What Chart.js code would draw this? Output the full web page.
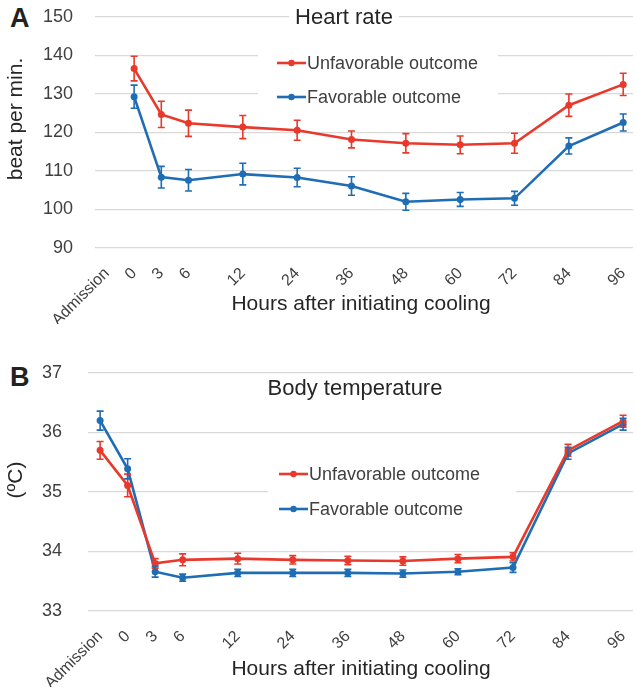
<!DOCTYPE html>
<html>
<head>
<meta charset="utf-8">
<script src="https://cdn.jsdelivr.net/npm/chart.js@4.4.0/dist/chart.umd.min.js"></script>
<style>
  body { margin: 0; background: #fff; width: 637px; height: 698px; position: relative; overflow: hidden; }
  canvas { position: absolute; left: 0; }
  .tag { position: absolute; font: bold 27px "Liberation Sans", Arial, sans-serif; color: #222; }
</style>
</head>
<body>
<div class="tag" style="left:10px; top:3px;">A</div>
<div class="tag" style="left:10px; top:362px;">B</div>
<canvas id="heart" width="637" height="335" style="top:0"></canvas>
<canvas id="temp" width="637" height="353" style="top:345px"></canvas>
<script>
// time points; the first three intervals are drawn at half spacing like the original figure
const categories = ['Admission', '0', '3', '6', '12', '24', '36', '48', '60', '72', '84', '96'];
const xPositions = [-0.5, 0, 0.5, 1, 2, 3, 4, 5, 6, 7, 8, 9];

// heart rate (beat per min.), mean and error
const hrUnfav    = [null, 136.6, 124.7, 122.4, 121.4, 120.6, 118.2, 117.2, 116.8, 117.2, 127.1, 132.5];
const hrUnfavErr = [null, 3.2, 3.4, 3.4, 3.0, 2.6, 2.2, 2.5, 2.3, 2.6, 2.9, 2.9];
const hrFav      = [null, 129.3, 108.4, 107.6, 109.2, 108.3, 106.1, 102.0, 102.6, 102.9, 116.5, 122.6];
const hrFavErr   = [null, 3.0, 2.8, 2.8, 2.8, 2.4, 2.4, 2.2, 1.8, 1.8, 2.1, 2.2];

// body temperature (ºC), mean and error
const btUnfav    = [35.70, 35.11, 33.80, 33.86, 33.88, 33.86, 33.85, 33.84, 33.88, 33.91, 35.70, 36.19];
const btUnfavErr = [0.15, 0.19, 0.08, 0.10, 0.09, 0.07, 0.07, 0.07, 0.07, 0.07, 0.10, 0.10];
const btFav      = [36.20, 35.39, 33.66, 33.56, 33.64, 33.64, 33.64, 33.63, 33.66, 33.73, 35.65, 36.14];
const btFavErr   = [0.16, 0.17, 0.09, 0.06, 0.06, 0.06, 0.06, 0.06, 0.05, 0.08, 0.10, 0.10];

const hrTicks = [90, 100, 110, 120, 130, 140, 150];
const btTicks = [33, 34, 35, 36, 37];

const RED = '#e8392c';
const BLUE = '#1f6db4';
const FONT = '"Liberation Sans", Arial, sans-serif';

function toPoints(values) {
  return values.map((v, i) => ({ x: xPositions[i], y: v }));
}

function noScalePadding(scale) {
  scale.paddingTop = 0;
  scale.paddingBottom = 0;
  scale.paddingLeft = 0;
  scale.paddingRight = 0;
}

// draws the error bars with caps
const errorBars = {
  id: 'errorBars',
  afterDatasetsDraw(chart) {
    const ctx = chart.ctx;
    const xs = chart.scales.x, ys = chart.scales.y;
    chart.data.datasets.forEach(ds => {
      ctx.save();
      ctx.strokeStyle = ds.borderColor;
      ctx.lineWidth = 1.6;
      ds.data.forEach((p, i) => {
        if (p.y == null) return;
        const e = ds.errors[i];
        const x = xs.getPixelForValue(p.x);
        const top = ys.getPixelForValue(p.y + e);
        const bot = ys.getPixelForValue(p.y - e);
        ctx.beginPath();
        ctx.moveTo(x, top); ctx.lineTo(x, bot);
        ctx.moveTo(x - 3.5, top); ctx.lineTo(x + 3.5, top);
        ctx.moveTo(x - 3.5, bot); ctx.lineTo(x + 3.5, bot);
        ctx.stroke();
      });
      ctx.restore();
    });
  }
};

// title, legend and axis titles drawn at fixed spots, title/legend on white boxes
const overlay = {
  id: 'overlay',
  beforeDatasetsDraw(chart, args, opts) {
    const ctx = chart.ctx;
    ctx.save();
    ctx.fillStyle = '#fff';
    ctx.font = '22px ' + FONT;
    const tw = ctx.measureText(opts.title).width;
    ctx.fillRect(opts.titleX - tw / 2 - 6, opts.titleY - 14, tw + 12, 28);
    ctx.fillRect(opts.legendBox[0], opts.legendBox[1], opts.legendBox[2], opts.legendBox[3]);
    ctx.restore();
  },
  afterDraw(chart, args, opts) {
    const ctx = chart.ctx;
    ctx.save();
    ctx.fillStyle = '#262626';
    ctx.font = '22px ' + FONT;
    ctx.textAlign = 'center';
    ctx.textBaseline = 'middle';
    ctx.fillText(opts.title, opts.titleX, opts.titleY);
    ctx.font = '21px ' + FONT;
    ctx.fillText(opts.xTitle, opts.xTitleX, opts.xTitleY);
    ctx.save();
    ctx.translate(opts.yTitleX, opts.yTitleY);
    ctx.rotate(-Math.PI / 2);
    ctx.fillText(opts.yTitle, 0, 0);
    ctx.restore();
    ctx.font = '18px ' + FONT;
    ctx.textAlign = 'left';
    chart.data.datasets.forEach((ds, i) => {
      const y = opts.legendY + i * opts.legendGap;
      const x = opts.legendX;
      ctx.strokeStyle = ds.borderColor;
      ctx.lineWidth = 2.6;
      ctx.beginPath();
      ctx.moveTo(x, y); ctx.lineTo(x + 29, y);
      ctx.stroke();
      ctx.fillStyle = ds.borderColor;
      ctx.beginPath();
      ctx.arc(x + 14.5, y, 3.2, 0, Math.PI * 2);
      ctx.fill();
      ctx.fillStyle = '#404040';
      ctx.fillText(ds.label, x + 30, y + 1);
    });
    ctx.restore();
  }
};

function makeChart(id, unfav, unfavErr, fav, favErr, yTicks, ov, pad, yWidth, tickPad) {
  const ctx = document.getElementById(id).getContext('2d');
  return new Chart(ctx, {
    type: 'line',
    data: {
      datasets: [
        { label: 'Unfavorable outcome', data: toPoints(unfav), errors: unfavErr,
          borderColor: RED, backgroundColor: RED },
        { label: 'Favorable outcome', data: toPoints(fav), errors: favErr,
          borderColor: BLUE, backgroundColor: BLUE }
      ]
    },
    options: {
      responsive: false,
      animation: false,
      layout: { padding: pad },
      elements: {
        line: { borderWidth: 2.6, tension: 0 },
        point: { radius: 3.5, borderWidth: 0 }
      },
      scales: {
        x: {
          type: 'linear',
          min: -0.72,
          max: 9.18,
          afterBuildTicks(scale) {
            scale.ticks = xPositions.map(v => ({ value: v }));
          },
          afterFit(scale) {
            scale.height = 76;
            noScalePadding(scale);
          },
          ticks: {
            autoSkip: false,
            minRotation: 45,
            maxRotation: 45,
            padding: 8,
            color: '#404040',
            font: { family: FONT, size: 16 },
            callback: (v) => categories[xPositions.indexOf(v)]
          },
          grid: { display: false },
          border: { display: false }
        },
        y: {
          min: yTicks[0],
          max: yTicks[yTicks.length - 1],
          afterBuildTicks(scale) {
            scale.ticks = yTicks.map(v => ({ value: v }));
          },
          afterFit(scale) {
            scale.width = yWidth;
            noScalePadding(scale);
          },
          ticks: {
            color: '#404040',
            padding: tickPad,
            font: { family: FONT, size: 18 }
          },
          grid: { color: '#d9d9d9', lineWidth: 1.3, drawTicks: false },
          border: { display: false }
        }
      },
      plugins: {
        legend: { display: false },
        tooltip: { enabled: false },
        overlay: ov
      }
    },
    plugins: [overlay, errorBars]
  });
}

makeChart('heart', hrUnfav, hrUnfavErr, hrFav, hrFavErr, hrTicks, {
  title: 'Heart rate', titleX: 344, titleY: 18,
  xTitle: 'Hours after initiating cooling', xTitleX: 361, xTitleY: 304,
  yTitle: 'beat per min.', yTitleX: 16, yTitleY: 119,
  legendX: 277, legendY: 63, legendGap: 34, legendBox: [258, 44, 240, 70]
}, { top: 17, left: 0, right: 0, bottom: 11 }, 95, 22);

makeChart('temp', btUnfav, btUnfavErr, btFav, btFavErr, btTicks, {
  title: 'Body temperature', titleX: 355, titleY: 44,
  xTitle: 'Hours after initiating cooling', xTitleX: 361, xTitleY: 324,
  yTitle: '(ºC)', yTitleX: 16, yTitleY: 135,
  legendX: 279, legendY: 129, legendGap: 35, legendBox: [268, 108, 248, 74]
}, { top: 28, left: 0, right: 0, bottom: 11 }, 88, 26);
</script>
</body>
</html>
